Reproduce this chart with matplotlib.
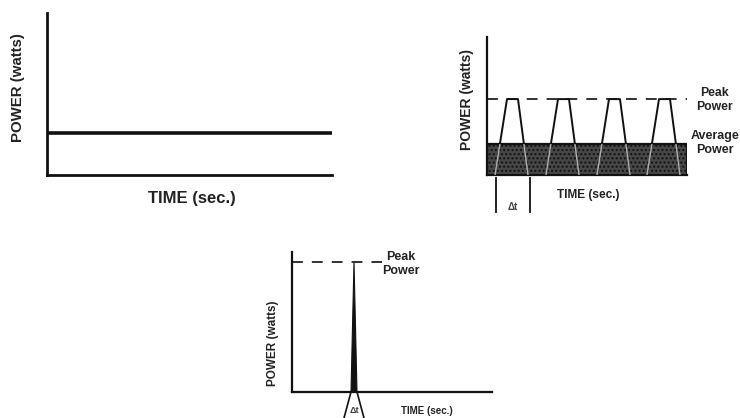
import matplotlib
matplotlib.use("Agg")
import matplotlib.pyplot as plt
from matplotlib.patches import Rectangle

# panel 1: continuous power
cw_time = [0, 1]
cw_power = [0.26, 0.26]

# panel 2: repeated pulses
pulse_starts = [8, 59, 110, 160]
pulse_rise = 12
pulse_top = 11
pulse_fall = 10
peak_power = 0.55
avg_power = 0.225
dt_marks = [9, 43]

# panel 3: single spike
spike_center = 62
spike_half = 3
spike_peak = 0.93

W, H = 740, 418
plt.rcParams['font.family'] = ['Liberation Sans', 'DejaVu Sans']
plt.rcParams['font.weight'] = 'bold'
TXT = '#222222'

fig = plt.figure(figsize=(W / 100, H / 100), dpi=100)


def rect(x0, y0, x1, y1):
    # pixel box (top-left origin) -> figure fraction
    return [x0 / W, (H - y1) / H, (x1 - x0) / W, (y1 - y0) / H]


def ftext(x, y, s, **kw):
    fig.text(x / W, (H - y) / H, s, color=TXT, fontweight='bold', **kw)


def style(ax, lw):
    for s in ['top', 'right']:
        ax.spines[s].set_visible(False)
    for s in ['left', 'bottom']:
        ax.spines[s].set_linewidth(lw)
        ax.spines[s].set_color('#111111')
    ax.set_xticks([])
    ax.set_yticks([])
    ax.patch.set_alpha(0)


# ---- panel 1
ax1 = fig.add_axes(rect(47, 13, 332, 175))
style(ax1, 2.0)
ax1.set_xlim(0, 1)
ax1.set_ylim(0, 1)
ax1.plot(cw_time, cw_power, color='#111111', lw=2.6)
ftext(18, 88, 'POWER (watts)', fontsize=10.8, rotation=90, ha='center', va='center')
ftext(192, 199, 'TIME (sec.)', fontsize=12, ha='center', va='center')

# ---- panel 2
ax2 = fig.add_axes(rect(487, 37, 687, 175))
style(ax2, 1.6)
ax2.set_xlim(0, 200)
ax2.set_ylim(0, 1)
ax2.plot([0, 200], [peak_power, peak_power], color='#222222', lw=1.3,
         dashes=(6, 5))
for st in pulse_starts:
    xs = [st, st + pulse_rise, st + pulse_rise + pulse_top,
          st + pulse_rise + pulse_top + pulse_fall]
    ys = [0, peak_power, peak_power, 0]
    ax2.plot(xs, ys, color='#111111', lw=1.4)
box = Rectangle((0, 0), 200, avg_power, facecolor='#474747', edgecolor='#111111',
                lw=1.6, hatch='....', zorder=3)
ax2.add_patch(box)
clip = Rectangle((0, 0), 200, avg_power, transform=ax2.transData)
for st in pulse_starts:
    xs = [st, st + pulse_rise, st + pulse_rise + pulse_top,
          st + pulse_rise + pulse_top + pulse_fall]
    ys = [0, peak_power, peak_power, 0]
    ln, = ax2.plot(xs, ys, color='#b0b0b0', lw=1.0, zorder=4)
    ln.set_clip_path(clip)
for x in dt_marks:
    ax2.plot([x, x], [-0.02, -0.27], color='#111111', lw=1.3, clip_on=False)
ax2.text(sum(dt_marks) / 2, -0.23, '\u0394t', fontsize=7, ha='center', va='center',
         color='#444444', fontweight='bold', clip_on=False)
ftext(467, 100, 'POWER (watts)', fontsize=10, rotation=90, ha='center', va='center')
ftext(588, 195, 'TIME (sec.)', fontsize=8.6, ha='center', va='center')
ftext(714, 100, 'Peak\nPower', fontsize=8.8, ha='center', va='center', linespacing=1.3)
ftext(715, 143, 'Average\nPower', fontsize=9, ha='center', va='center', linespacing=1.15)

# ---- panel 3
ax3 = fig.add_axes(rect(292, 252, 492, 392))
style(ax3, 1.6)
ax3.set_xlim(0, 200)
ax3.set_ylim(0, 1)
ax3.plot([0, 90], [spike_peak, spike_peak], color='#222222', lw=1.3, dashes=(6, 5))
ax3.fill([spike_center - spike_half, spike_center, spike_center + spike_half],
         [0, spike_peak, 0], color='#111111', lw=0.8)
ax3.plot([spike_center - spike_half, spike_center - spike_half - 7], [0, -0.186],
         color='#111111', lw=1.2, clip_on=False)
ax3.plot([spike_center + spike_half, spike_center + spike_half + 7], [0, -0.186],
         color='#111111', lw=1.2, clip_on=False)
ax3.text(spike_center, -0.13, '\u0394t', fontsize=6.5, ha='center', va='center',
         color='#444444', fontweight='bold', clip_on=False)
ftext(273, 343, 'POWER (watts)', fontsize=8.5, rotation=90, ha='center', va='center')
ftext(427, 411, 'TIME (sec.)', fontsize=7, ha='center', va='center')
ftext(401, 264, 'Peak\nPower', fontsize=9, ha='center', va='center', linespacing=1.3)

fig.savefig('out.png', dpi=100, facecolor='white')
